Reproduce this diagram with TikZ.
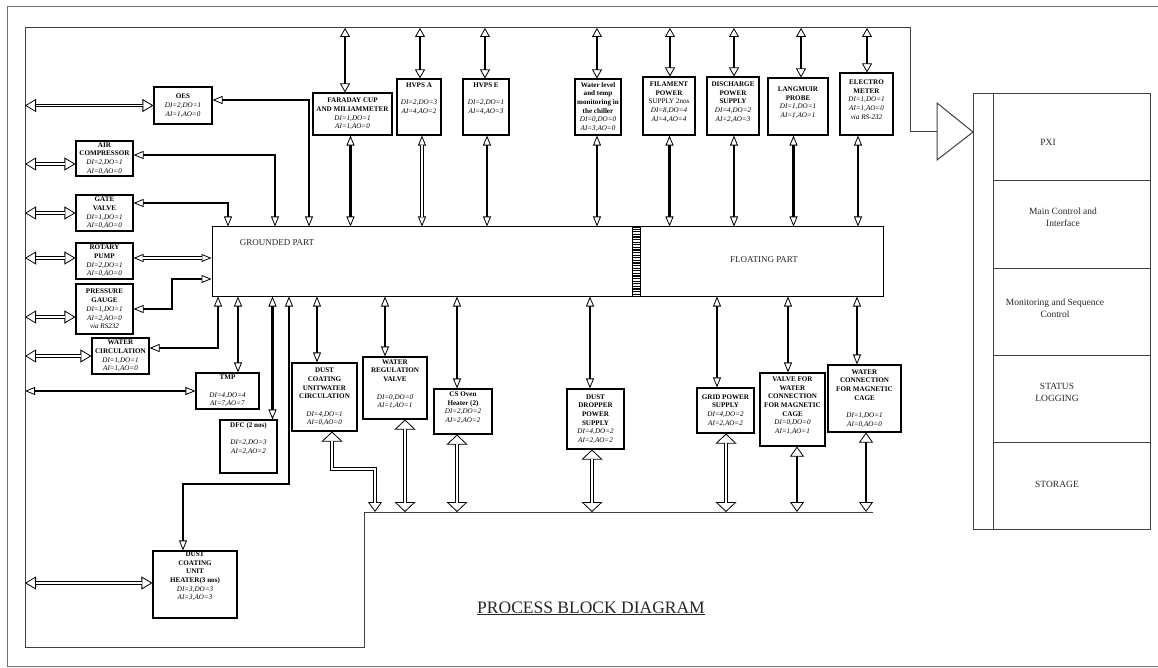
\documentclass[tikz,border=0pt]{standalone}
\usepackage{fontspec}
\setmainfont{Liberation Serif}
\usetikzlibrary{arrows.meta}
\newcommand\bxf{\fontsize{7.1}{8.7}\selectfont}
\newcommand\B[1]{\textbf{#1}}
\newcommand\I[1]{\textit{#1}}
\newcommand{\dcon}[3]{%
  \draw[line width=0.8pt,#1] #3;
  \draw[dbl,shorten <=#2,shorten >=#2] #3;}
\tikzset{
  bx/.style={draw, line width=1.1pt, inner sep=0pt, align=center, font=\bxf, fill=white},
  sz/.style 2 args={minimum width=#1, minimum height=#2},
  thk/.style={line width=2.6pt},
  dbl/.style={line width=0.9pt, double=white, double distance=1.7pt},
  frm/.style={line width=1pt, black!75},
  pxt/.style={font=\fontsize{9.5}{12}\selectfont, align=center, black!85},
  tS/.tip={Triangle[fill=white,width=8pt,length=10pt,line width=0.8pt]},
  tM/.tip={Triangle[fill=white,width=10pt,length=9pt,line width=0.8pt]},
  tL/.tip={Triangle[fill=white,width=13pt,length=11pt,line width=0.8pt]},
  tB/.tip={Triangle[fill=white,width=14pt,length=10pt,line width=0.8pt]},
  tX/.tip={Triangle[fill=white,width=21pt,length=10pt,line width=0.8pt]},
}
\begin{document}
\begin{tikzpicture}[x=1pt,y=-1pt]
\useasboundingbox (0,0) rectangle (1158,668);
% outer frame
\draw[black!55, line width=0.8pt] (1158,6) -- (7,6) -- (7,666) -- (1158,666);
% bus / inner frame
\coordinate (ftl) at (25,28);
\coordinate (bus) at (364,512);
\draw[frm] (910,132) -- (910,28) -- (ftl) -- (25,647) -- (364,647) -- (bus) -- (873,512);
\draw[frm] (910,132) -- (937,132);
\draw[frm] (937,103) -- (973,132) -- (937,160) -- cycle;
% PXI panel
\draw[frm] (973,94) rectangle (1150,529);
\draw[frm] (993,94) -- (993,529);
\foreach \y in {181,268,355,442} \draw[frm] (993,\y) -- (1150,\y);
\node[pxt] (pxi) at (1048,142) {PXI};
\node[pxt] (mci) at (1063,217) {Main Control and\\Interface};
\node[pxt] (msc) at (1055,308) {Monitoring and Sequence\\Control};
\node[pxt] (sl) at (1057,392) {STATUS\\LOGGING};
\node[pxt] (sto) at (1057,484) {STORAGE};
% central block
\node[draw, line width=1pt, sz={671pt}{69pt}] (core) at (547.5,261.5) {};
\node[font=\fontsize{9}{11}\selectfont, black!85] (gp) at (277,243) {GROUNDED PART};
\node[font=\fontsize{9}{11}\selectfont, black!85] (fp) at (764,260) {FLOATING PART};
\node[draw, line width=0.8pt, fill=white, inner sep=0pt, sz={8pt}{69pt}] (hatch) at (636,261.5) {};
\foreach \y in {229.2,231.8,...,295} \draw[line width=1.1pt] (632,\y) -- (640,\y);
% top boxes
\node[bx, sz={58pt}{37pt}] (oes) at (183,105.5) {\B{OES}\\\I{DI=2,DO=1}\\\I{AI=1,AO=0}};
\node[bx, sz={79pt}{42pt}] (fcup) at (352.5,114) {\B{FARADAY CUP}\\\B{AND MILIAMMETER}\\\I{DI=1,DO=1}\\\I{AI=1,AO=0}};
\node[bx, sz={44pt}{56pt}] (hva) at (419,107) {\B{HVPS A}\\~\\\I{DI=2,DO=3}\\\I{AI=4,AO=2}\\~\\~};
\node[bx, sz={46pt}{56pt}] (hve) at (486,107) {\B{HVPS E}\\~\\\I{DI=2,DO=1}\\\I{AI=4,AO=3}\\~\\~};
\node[bx, sz={46pt}{56pt}] (wl) at (598,107) {\B{Water level}\\\B{and temp}\\\B{monitoring in}\\\B{the chiller}\\\I{DI=0,DO=0}\\\I{AI=3,AO=0}};
\node[bx, sz={52pt}{58pt}] (fil) at (669,106) {\B{FILAMENT}\\\B{POWER}\\SUPPLY 2nos\\\I{DI=8,DO=4}\\\I{AI=4,AO=4}\\~};
\node[bx, sz={52pt}{58pt}] (dis) at (733,106) {\B{DISCHARGE}\\\B{POWER}\\\B{SUPPLY}\\\I{DI=4,DO=2}\\\I{AI=2,AO=3}\\~};
\node[bx, sz={60pt}{57pt}] (lang) at (798,106.5) {\B{LANGMUIR}\\\B{PROBE}\\\I{DI=1,DO=1}\\\I{AI=1,AO=1}\\~};
\node[bx, sz={53pt}{62pt}] (elec) at (866.5,104) {\B{ELECTRO}\\\B{METER}\\\I{DI=1,DO=1}\\\I{AI=1,AO=0}\\\I{via RS-232}\\~};
% left boxes
\node[bx, sz={57pt}{35pt}] (air) at (104.5,158.5) {\B{AIR}\\\B{COMPRESSOR}\\\I{DI=2,DO=1}\\\I{AI=0,AO=0}};
\node[bx, sz={57pt}{36pt}] (gate) at (104.5,213) {\B{GATE}\\\B{VALVE}\\\I{DI=1,DO=1}\\\I{AI=0,AO=0}};
\node[bx, sz={57pt}{36pt}] (rot) at (104.5,261) {\B{ROTARY}\\\B{PUMP}\\\I{DI=2,DO=1}\\\I{AI=0,AO=0}};
\node[bx, sz={57pt}{50pt}] (prs) at (104.5,309) {\B{PRESSURE}\\\B{GAUGE}\\\I{DI=1,DO=1}\\\I{AI=2,AO=0}\\\I{via RS232}};
\node[bx, sz={57pt}{36pt}] (wc) at (120.5,356) {\B{WATER}\\\B{CIRCULATION}\\\I{DI=1,DO=1}\\\I{AI=1,AO=0}};
\node[bx, sz={63pt}{36pt}] (tmp) at (227.5,391) {\B{TMP}\\~\\\I{DI=4,DO=4}\\\I{AI=7,AO=7}};
\node[bx, sz={57pt}{53pt}] (dfc) at (248.5,446.5) {\B{DFC (2 nos)}\\~\\\I{DI=2,DO=3}\\\I{AI=2,AO=2}\\~\\~};
\node[bx, sz={84pt}{67pt}] (htr) at (195,584.5) {\B{DUST}\\\B{COATING}\\\B{UNIT}\\\B{HEATER(3 nos)}\\\I{DI=3,DO=3}\\\I{AI=3,AO=3}\\~\\~};
% bottom boxes
\node[bx, sz={65pt}{68pt}] (dcw) at (324.5,397) {\B{DUST}\\\B{COATING}\\\B{UNITWATER}\\\B{CIRCULATION}\\~\\\I{DI=4,DO=1}\\\I{AI=0,AO=0}};
\node[bx, sz={64pt}{62pt}] (wrv) at (395,388) {\B{WATER}\\\B{REGULATION}\\\B{VALVE}\\~\\\I{DI=0,DO=0}\\\I{AI=1,AO=1}\\~};
\node[bx, sz={58pt}{45pt}] (cs) at (463,411.5) {\B{CS Oven}\\\B{Heater (2)}\\\I{DI=2,DO=2}\\\I{AI=2,AO=2}\\~};
\node[bx, sz={57pt}{60pt}] (dd) at (595.5,419) {\B{DUST}\\\B{DROPPER}\\\B{POWER}\\\B{SUPPLY}\\\I{DI=4,DO=2}\\\I{AI=2,AO=2}};
\node[bx, sz={57pt}{45pt}] (grid) at (725.5,410.5) {\B{GRID POWER}\\\B{SUPPLY}\\\I{DI=4,DO=2}\\\I{AI=2,AO=2}};
\node[bx, sz={65pt}{73pt}] (vlv) at (792.5,409.5) {\B{VALVE FOR}\\\B{WATER}\\\B{CONNECTION}\\\B{FOR MAGNETIC}\\\B{CAGE}\\\I{DI=0,DO=0}\\\I{AI=1,AO=1}\\~};
\node[bx, sz={73pt}{67pt}] (wcn) at (864.5,398.5) {\B{WATER}\\\B{CONNECTION}\\\B{FOR MAGNETIC}\\\B{CAGE}\\~\\\I{DI=1,DO=1}\\\I{AI=0,AO=0}};
% left double connectors to the frame
\dcon{tL-tL}{10.5pt}{(oes.west) -- (oes.west -| ftl)}
\dcon{tL-tL}{10.5pt}{([yshift=-5.5pt]air.west) -- ([yshift=-5.5pt]air.west -| ftl)}
\dcon{tL-tL}{10.5pt}{(gate.west) -- (gate.west -| ftl)}
\dcon{tL-tL}{10.5pt}{([yshift=3pt]rot.west) -- ([yshift=3pt]rot.west -| ftl)}
\dcon{tL-tL}{10.5pt}{([yshift=-8pt]prs.west) -- ([yshift=-8pt]prs.west -| ftl)}
\dcon{tL-tL}{10.5pt}{(wc.west) -- (wc.west -| ftl)}
\dcon{tL-tL}{10.5pt}{([yshift=1.5pt]htr.west) -- ([yshift=1.5pt]htr.west -| ftl)}
\draw[thk,tS-tS] (tmp.west) -- (tmp.west -| ftl);
% left boxes to central block
\draw[thk,tS-tS] ([yshift=5.5pt]oes.east) -| (309,0 |- core.north);
\draw[thk,tS-tS] ([yshift=3.5pt]air.east) -| (275,0 |- core.north);
\draw[thk,tS-tS] ([yshift=10pt]gate.east) -| (228,0 |- core.north);
\dcon{tS-tS}{9.5pt}{([yshift=3pt]rot.east) -- ([yshift=3pt]rot.east -| core.west)}
\draw[thk,tS-tS] (prs.east) -- (172,0 |- prs.east) |- (core.west |- 0,279);
\draw[thk,tS-tS] ([yshift=8pt]wc.east) -| (218,0 |- core.south);
\draw[thk,tS-tS] ([xshift=10.5pt]tmp.north) -- ([xshift=10.5pt]tmp.north |- core.south);
\draw[thk,tS-tS] ([xshift=24pt]dfc.north) -- ([xshift=24pt]dfc.north |- core.south);
\draw[thk,tS-tS] (289,0 |- core.south) -- (289,484) -| ([xshift=-12pt]htr.north);
% top boxes: up to frame, down to central block
\foreach \n/\u/\d in {fcup/-7.5/-2, hve/-1/1, wl/-1/-1, fil/1/0.5, dis/1/1, lang/3/-4.5, elec/0.5/-8.5}{
  \draw[thk,tM-tM] ([xshift=\u pt]\n.north) -- ([xshift=\u pt]\n.north |- ftl);
  \draw[thk,tS-tS] ([xshift=\d pt]\n.south) -- ([xshift=\d pt]\n.south |- core.north);
}
\draw[thk,tM-tM] ([xshift=1pt]hva.north) -- ([xshift=1pt]hva.north |- ftl);
\dcon{tS-tS}{9.5pt}{([xshift=3pt]hva.south) -- ([xshift=3pt]hva.south |- core.north)}
% bottom boxes: up to central block
\foreach \n/\d in {dcw/-7.5, wrv/-10, cs/-6, dd/-5.5, grid/-8.5, vlv/-4.5, wcn/-7.5}{
  \draw[thk,tS-tS] ([xshift=\d pt]\n.north) -- ([xshift=\d pt]\n.north |- core.south);
}
% bottom boxes: down to bus
\dcon{tX-tB}{9.5pt}{([xshift=7.5pt]dcw.south) |- (375,469) -- (375,0 |- bus)}
\dcon{tX-tX}{9.5pt}{([xshift=10pt]wrv.south) -- ([xshift=10pt]wrv.south |- bus)}
\dcon{tX-tX}{9.5pt}{([xshift=-6pt]cs.south) -- ([xshift=-6pt]cs.south |- bus)}
\dcon{tX-tX}{9.5pt}{([xshift=-3.5pt]dd.south) -- ([xshift=-3.5pt]dd.south |- bus)}
\dcon{tX-tX}{9.5pt}{([xshift=0.5pt]grid.south) -- ([xshift=0.5pt]grid.south |- bus)}
\draw[thk,tB-tB] ([xshift=4.5pt]vlv.south) -- ([xshift=4.5pt]vlv.south |- bus);
\draw[thk,tB-tB] ([xshift=1.5pt]wcn.south) -- ([xshift=1.5pt]wcn.south |- bus);
% title
\node[font=\fontsize{17.5}{20}\selectfont, anchor=base, black!85] (title) at (591,613) {\underline{PROCESS BLOCK DIAGRAM}};
\end{tikzpicture}
\end{document}
